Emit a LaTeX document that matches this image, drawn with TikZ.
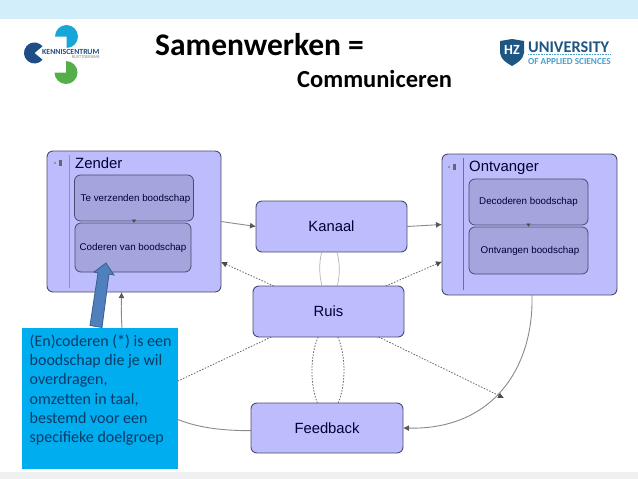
\documentclass[tikz,border=0pt]{standalone}
\usepackage{fontspec}
\setmainfont{Carlito}
\newfontfamily\diagramfont{Liberation Sans}
\usepackage{xcolor}
\definecolor{boxfill}{HTML}{BDBDFD}
\definecolor{innerfill}{HTML}{A5A5DE}
\definecolor{boxedge}{HTML}{4A4A72}
\definecolor{lineedge}{HTML}{8A8A8A}
\definecolor{notefill}{HTML}{00ADEF}
\definecolor{notetext}{HTML}{0A3A66}
\definecolor{pointerfill}{HTML}{4F7FBC}
\definecolor{pointeredge}{HTML}{3A5F8C}
\definecolor{topband}{HTML}{D2EEFB}
\definecolor{bottomband}{HTML}{EEF0F1}
\definecolor{logoblue}{HTML}{1F4E86}
\definecolor{logocyan}{HTML}{17A6D8}
\definecolor{logogreen}{HTML}{55AE4A}
\definecolor{hzdark}{HTML}{1F5583}
\definecolor{hzlight}{HTML}{4AA0D0}
\usetikzlibrary{arrows.meta, positioning}
\tikzset{
    box/.style={draw=boxedge, fill=boxfill, line width=0.9pt, rounded corners=6pt, inner sep=0pt, outer sep=0pt, font=\diagramfont\fontsize{14.8}{16}\selectfont, text=black!80!blue},
    inner box/.style={draw=boxedge, fill=innerfill, line width=0.8pt, rounded corners=6pt, inner sep=0pt, outer sep=0pt, font=\diagramfont\fontsize{9.8}{12}\selectfont, text=black!80!blue},
    box title/.style={anchor=west, inner sep=0pt, font=\diagramfont\fontsize{14.9}{16}\selectfont, text=black!80!blue},
    conn/.style={draw=lineedge, line width=0.9pt, -{Latex[length=6pt,width=6pt,color=black!65]}},
    noise/.style={draw=black!60, line width=0.8pt, dash pattern=on 1.5pt off 1.5pt, -{Latex[length=6pt,width=6pt,color=black!70]}},
    link/.style={draw=black!30, line width=0.7pt},
    linkdots/.style={draw=black!60, line width=0.8pt, dash pattern=on 1.5pt off 1.5pt}
}
\begin{document}
\begin{tikzpicture}[x=1pt,y=-1pt]
    \useasboundingbox (0,0) rectangle (638,479);
    % Bands at top and bottom
    \fill[white] (0,0) rectangle (638,479);
    \fill[topband] (0,0) rectangle (638,19);
    \fill[bottomband] (0,472) rectangle (638,479);

    % Title
    \node[anchor=west, inner sep=0pt, font=\bfseries\fontsize{31.5}{34}\selectfont] (title) at (155,45) {Samenwerken =};
    \node[anchor=west, inner sep=0pt, font=\bfseries\fontsize{24.5}{27}\selectfont] (subtitle) at (297,79) {Communiceren};

    % Left logo
    \fill[logocyan] (66.5,36.5) -- ++(180:11.5) arc (180:450:11.5) -- cycle;
    \fill[logoblue] (34.5,53) -- ++(40:10.5) arc (40:320:10.5) -- cycle;
    \fill[logogreen] (66,72.5) -- ++(270:11.5) arc (270:540:11.5) -- cycle;
    \node[anchor=west, inner sep=0pt, text=logoblue, font=\bfseries\fontsize{7.8}{8}\selectfont] (kctext) at (42,51.5) {KENNISCENTRUM};
    \node[anchor=east, inner sep=0pt, text=black!50, font=\fontsize{4.4}{5}\selectfont] (kcsub) at (100,57.5) {RUSTTOERISME};

    % Right logo
    \fill[hzdark] (500,41) -- (512,39) -- (524,41) -- (524,53) .. controls (523,60) and (517,63) .. (512,66) .. controls (507,63) and (501,60) .. (500,53) -- cycle;
    \node[text=white, inner sep=0pt, font=\bfseries\fontsize{14}{14}\selectfont] (hzmark) at (512,50) {HZ};
    \node[anchor=west, inner sep=0pt, text=hzdark, font=\bfseries\fontsize{16.3}{17}\selectfont] (hzname) at (528,47) {UNIVERSITY};
    \node[anchor=west, inner sep=0pt, text=hzlight, font=\bfseries\fontsize{9.2}{10}\selectfont] (hzsub) at (528,62) {OF APPLIED SCIENCES};
    \draw[hzlight, line width=0.6pt, densely dotted] (528,54.5) -- (610,54.5);

    % Outer boxes
    \node[box, minimum width=174pt, minimum height=141pt] (zender) at (134,221.5) {};
    \node[box, minimum width=175pt, minimum height=141pt] (ontvanger) at (529.5,224.5) {};
    \node[box, minimum width=151pt, minimum height=51pt] (kanaal) at (331.5,226.5) {Kanaal};
    \node[box, minimum width=151pt, minimum height=51pt] (ruis) at (328.5,311.5) {Ruis};
    \node[box, minimum width=152pt, minimum height=50pt] (feedback) at (327,428) {Feedback};

    % Titles and dividers of the outer boxes
    \node[box title] (zendertitle) at (75,163.5) {Zender};
    \node[box title] (ontvangertitle) at (469,167.5) {Ontvanger};
    \draw[boxedge!60, line width=0.7pt] (69,155) -- (69,288);
    \draw[boxedge!80, line width=0.7pt] (463,158) -- (463,290);
    \foreach \ix/\iy in {55/163, 449/167} {
        \fill[black!60] (\ix,\iy) circle (0.9);
        \fill[black!60] (\ix+4,\iy-3) rectangle (\ix+7,\iy+3);
    }

    % Inner boxes
    \node[inner box, minimum width=119pt, minimum height=46pt, text depth=0pt] (verzenden) at (134,198) {\hspace{3pt}Te verzenden boodschap};
    \node[inner box, minimum width=116pt, minimum height=49pt] (coderen) at (133,247.5) {Coderen van boodschap};
    \node[inner box, minimum width=119pt, minimum height=46pt] (decoderen) at (528.5,202) {Decoderen boodschap};
    \node[inner box, minimum width=119pt, minimum height=47pt] (ontvangen) at (528.5,250.5) {\hspace{3pt}Ontvangen boodschap};
    \draw[-{Latex[length=3.5pt,width=5pt]}, black!70, line width=0.8pt] (verzenden.south) -- (coderen.north -| verzenden.south);
    \draw[-{Latex[length=3.5pt,width=5pt]}, black!70, line width=0.8pt] (decoderen.south) -- (ontvangen.north);

    % Connectors
    \draw[conn] (zender.east) -- (kanaal.west);
    \draw[conn] (kanaal.east) -- (ontvanger.west);
    \draw[noise] (ruis.155.7) -- (zender.-25);
    \draw[noise] (ruis.24) -- (ontvanger.203.2);
    \coordinate (crossing) at (504,398);
    \draw[noise] (ruis.333.7) -- (crossing);
    \draw[conn] (ontvanger.272) .. controls (534,365) and (495,430) .. (feedback.east);
    \draw[conn] (feedback.182.3) .. controls (150,431) and (119,390) .. (zender.260.3);
    \draw[link] (kanaal.249.6) .. controls (319,262) and (319,276) .. (ruis.104);
    \draw[link] (kanaal.282.2) .. controls (340,262) and (340,276) .. (ruis.71.6);
    \draw[linkdots] (ruis.248) .. controls (310,355) and (310,385) .. (feedback.111.8);
    \draw[linkdots] (ruis.290.4) .. controls (346,355) and (346,385) .. (feedback.66.25);

    % Note with its pointer
    \node[anchor=north west, fill=notefill, minimum width=156pt, minimum height=141pt, inner sep=0pt, outer sep=0pt] (note) at (22,328) {};
    \draw[linkdots] (ruis.204.7) -- (note.east |- 0,381);
    \node[anchor=north west, inner sep=0pt, align=left, text=notetext, font=\fontsize{16}{19.2}\selectfont] (notelabel) at (29.5,334.5) {(En)coderen (*) is een\\boodschap die je wil\\overdragen,\\omzetten in taal,\\bestemd voor een\\specifieke doelgroep};
    \draw[pointeredge, fill=pointerfill, line width=0.8pt] (90,325.5) -- (98,273) -- (94,272) -- (106,263) -- (114,275) -- (109,274) -- (102,327.5) -- cycle;
\end{tikzpicture}
\end{document}
